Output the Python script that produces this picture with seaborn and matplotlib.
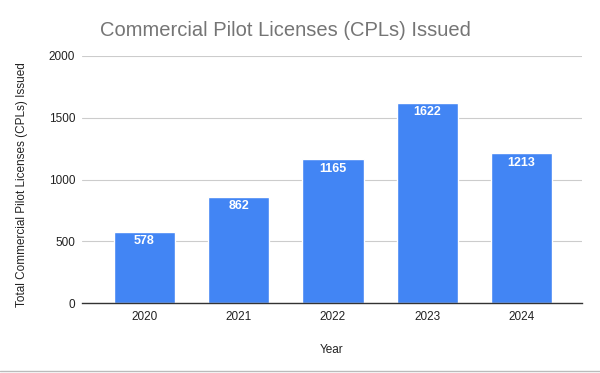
import pandas as pd
import matplotlib.pyplot as plt
import seaborn as sns

# Data
years = ["2020", "2021", "2022", "2023", "2024"]
cpls = [578, 862, 1165, 1622, 1213]

df = pd.DataFrame({"Year": years, "CPLs": cpls})

sns.set_style("white")
plt.rcParams["font.family"] = ["Liberation Sans", "DejaVu Sans"]

fig = plt.figure(figsize=(6, 3.73), dpi=100)
ax = fig.add_axes([82 / 600, 1 - 303 / 373, 500 / 600, 247 / 373])

sns.barplot(data=df, x="Year", y="CPLs", color="#4285F4", saturation=1,
            width=0.65, ax=ax, zorder=3)

# Value labels inside the top of each bar
for i, v in enumerate(cpls):
    ax.text(i, v - 30, str(v), ha="center", va="top", color="white",
            fontsize=9, fontweight="bold", zorder=4)

ax.set_ylim(0, 2000)
ax.set_yticks([0, 500, 1000, 1500, 2000])
ax.set_xlim(-0.66, 4.64)
ax.grid(axis="y", color="#cccccc", linewidth=0.8, zorder=0)
for s in ["top", "right", "left"]:
    ax.spines[s].set_visible(False)
ax.spines["bottom"].set_color("#333333")
ax.spines["bottom"].set_linewidth(1)
ax.spines["bottom"].set_zorder(5)
ax.tick_params(axis="both", length=0, labelsize=8.5, colors="#222222")
ax.tick_params(axis="y", pad=5)
ax.tick_params(axis="x", pad=6)

ax.set_xlabel("Year", fontsize=8.5, color="#222222", labelpad=15)
ax.set_ylabel("Total Commercial Pilot Licenses (CPLs) Issued", fontsize=8.5,
              color="#222222")
ax.yaxis.set_label_coords(-0.108, 0.478)

fig.text(100 / 600, 1 - 30 / 373, "Commercial Pilot Licenses (CPLs) Issued",
         fontsize=14.5, color="#757575", ha="left", va="center")

# thin frame line at the bottom of the chart
fig.add_artist(plt.Line2D([0, 1], [1 - 371 / 373] * 2, color="#bbbbbb",
                          linewidth=1, transform=fig.transFigure))

fig.savefig("out.png", dpi=100)
